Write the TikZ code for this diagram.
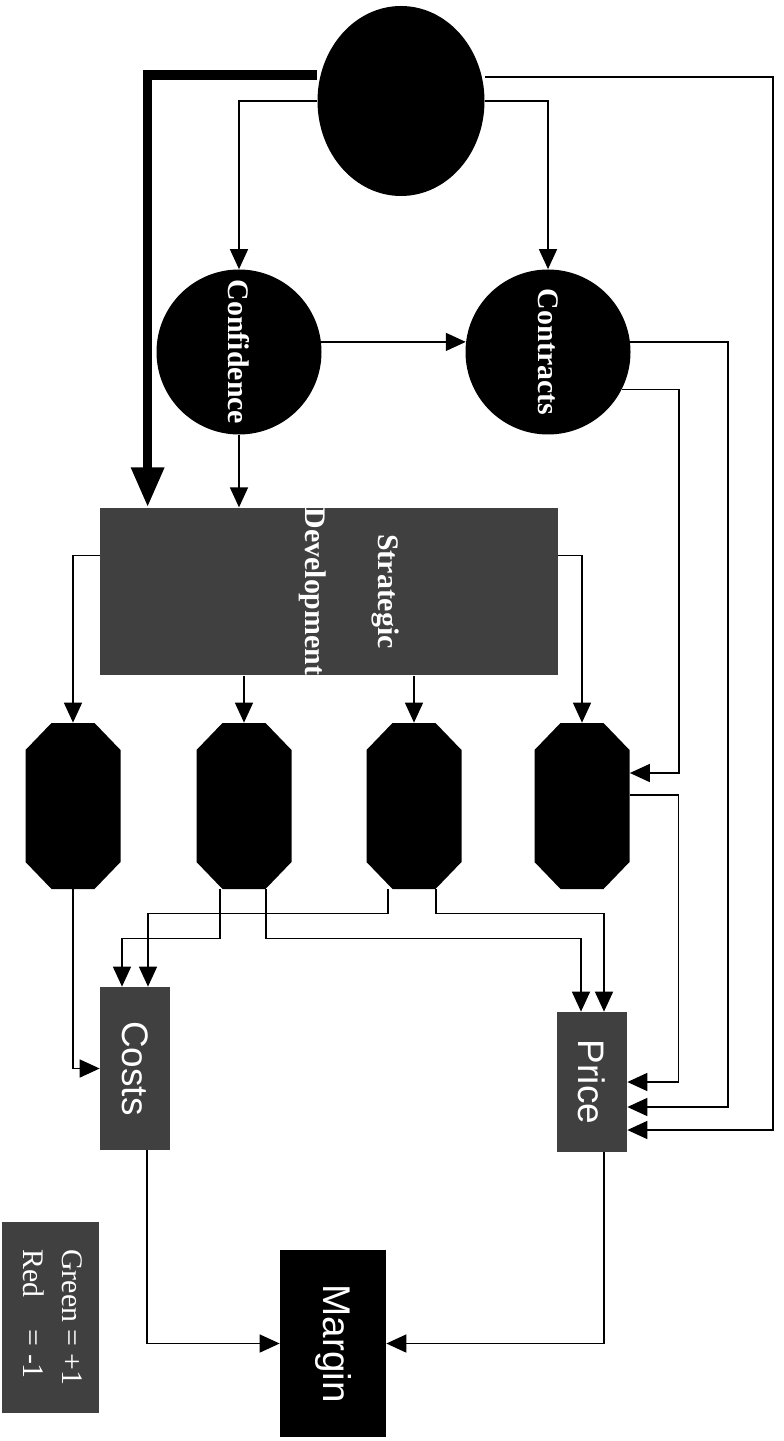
\documentclass[tikz,border=0pt]{standalone}
\usepackage{fontspec}
\setmainfont{Liberation Serif}
\setsansfont{Liberation Sans}
\usepackage{graphicx}
\usepackage{tikz}
\usetikzlibrary{shapes.geometric,arrows.meta,positioning,calc}

\begin{document}
\begin{tikzpicture}[
  hub/.style={ellipse, fill=black, minimum width=3.34cm, minimum height=3.8cm, inner sep=0pt},
  ball/.style={circle, fill=black, minimum size=3.3cm, inner sep=0pt, text=white,
               font=\bfseries\fontsize{17}{20}\selectfont},
  block/.style={rectangle, fill=black!75, inner sep=0pt, text=white},
  octo/.style={rectangle, inner sep=0pt, minimum width=1.9cm, minimum height=3.32cm,
               path picture={
                 \fill[black] ([xshift=0.52cm]path picture bounding box.north west)
                   -- ([xshift=-0.52cm]path picture bounding box.north east)
                   -- ([yshift=-0.54cm]path picture bounding box.north east)
                   -- ([yshift=0.54cm]path picture bounding box.south east)
                   -- ([xshift=-0.52cm]path picture bounding box.south east)
                   -- ([xshift=0.52cm]path picture bounding box.south west)
                   -- ([yshift=0.54cm]path picture bounding box.south west)
                   -- ([yshift=-0.54cm]path picture bounding box.north west) -- cycle;}},
  arr/.style={draw, line width=0.9pt, -{Triangle[length=0.4cm, width=0.36cm]}},
  bigarr/.style={draw, line width=5.2pt, -{Triangle[length=0.8cm, width=0.62cm]}}
]
\useasboundingbox (0,0) rectangle (15.66,-28.82);

% Top and first level
\node[hub] (top) at (8.02, -2.02) {};
\node[ball] (conf) at (4.78, -7.04) {\rotatebox{-90}{Confidence}};
\node[ball] (contr) at (10.96, -7.04) {\rotatebox{-90}{Contracts}};

% Strategic block
\node[block, minimum width=9.16cm, minimum height=3.34cm,
      font=\bfseries\fontsize{17}{20}\selectfont] (strat) at (6.58, -11.83)
  {\hspace*{0.8cm}\rotatebox{-90}{\begin{tabular}{@{}c@{}}Strategic\\[0.75cm]Development\end{tabular}}};

% Octagons
\node[octo] (o1) at (1.46, -16.12) {};
\node[octo] (o2) at (4.88, -16.12) {};
\node[octo] (o3) at (8.28, -16.12) {};
\node[octo] (o4) at (11.64, -16.12) {};

% Costs, Price, Margin
\node[block, minimum width=1.4cm, minimum height=3.26cm,
      font=\sffamily\fontsize{21}{25}\selectfont] (costs) at (2.7, -21.37) {\rotatebox{-90}{Costs}};
\node[block, minimum width=1.4cm, minimum height=2.8cm,
      font=\sffamily\fontsize{21}{25}\selectfont] (price) at (11.84, -21.64) {\rotatebox{-90}{Price}};
\node[block, fill=black, minimum width=2.12cm, minimum height=3.74cm,
      font=\sffamily\fontsize{22}{26}\selectfont] (margin) at (6.66, -26.87) {\rotatebox{-90}{Margin}};

% Legend
\node[block, minimum width=1.94cm, minimum height=3.82cm,
      font=\fontsize{17}{22}\selectfont] (legend) at (1.01, -26.35)
  {\rotatebox{-90}{\begin{tabular}{@{}l@{ }l@{}}Green & = +1\\ Red & = -1\end{tabular}}};

% Connections -- top
\draw[arr] (top.west) -| (conf.north);
\draw[arr] (top.east) -| (contr.north);
\draw[bigarr] ([yshift=0.52cm]top.west) -| ([xshift=0.96cm]strat.north west);
\draw[arr] ([yshift=0.48cm]top.east) -- ++(5.76,0) |- ([yshift=-0.96cm]price.east);

% Connections -- Confidence and Contracts
\draw[arr] (conf.7) -- (contr.173);
\draw[arr] (conf.south) -- (conf.south |- strat.north);
\draw[arr] (contr.-27) -- ++(1.14,0) |- ([yshift=0.66cm]o4.east);
\draw[arr] (contr.7) -- ++(1.95,0) |- ([yshift=-0.5cm]price.east);

% Connections -- Strategic
\draw[arr] ([yshift=0.72cm]strat.west) -| (o1.north);
\foreach \o in {o2,o3}
  \draw[arr] (\o.north |- strat.south) -- (\o.north);
\draw[arr] ([yshift=0.72cm]strat.east) -| (o4.north);

% Connections -- octagons
\draw[arr] (o1.south) |- (costs.west);
\draw[arr] ([xshift=-0.48cm]o2.south) -- ++(0,-0.98) -| ([xshift=-0.26cm]costs.north);
\draw[arr] ([xshift=0.44cm]o2.south) -- ++(0,-0.98) -| ([xshift=-0.22cm]price.north);
\draw[arr] ([xshift=-0.52cm]o3.south) -- ++(0,-0.48) -| ([xshift=0.26cm]costs.north);
\draw[arr] ([xshift=0.44cm]o3.south) -- ++(0,-0.48) -| ([xshift=0.24cm]price.north);
\draw[arr] ([yshift=0.22cm]o4.east) -- ++(0.97,0) |- (price.east);

% Connections -- Margin
\draw[arr] ([xshift=0.24cm]costs.south) |- (margin.west);
\draw[arr] ([xshift=0.24cm]price.south) |- (margin.east);

\end{tikzpicture}
\end{document}
